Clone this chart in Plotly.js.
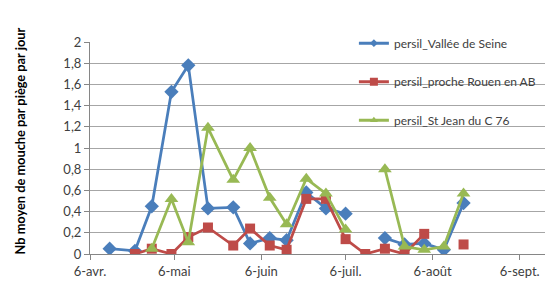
<!DOCTYPE html>
<html>
<head>
<meta charset="utf-8">
<script src="https://cdn.plot.ly/plotly-3.0.1.min.js"></script>
<style>html,body{margin:0;padding:0;background:#fff;}#chart{width:555px;height:285px;}</style>
</head>
<body>
<div id="chart"></div>
<script>
var dates = ["2013-04-13","2013-04-22","2013-04-28","2013-05-05","2013-05-11","2013-05-18","2013-05-27","2013-06-02","2013-06-09","2013-06-15","2013-06-22","2013-06-29","2013-07-06","2013-07-13","2013-07-20","2013-07-27","2013-08-03","2013-08-10","2013-08-17"];
var valleeSeine = [0.05,0.03,0.45,1.53,1.78,0.43,0.44,0.10,0.15,0.13,0.58,0.43,0.38,null,0.15,0.09,0.10,0.04,0.48];
var procheRouen = [null,0.00,0.05,0.00,0.16,0.25,0.08,0.24,0.08,0.04,0.52,0.52,0.14,0.00,0.05,0.00,0.19,null,0.09];
var stJean = [null,null,0.05,0.52,0.11,1.19,0.70,1.00,0.53,0.28,0.71,0.57,0.23,null,0.80,0.07,0.04,0.07,0.57];
var seriesNames = ["persil_Vallée de Seine","persil_proche Rouen en AB","persil_St Jean du C 76"];
var yAxisTitle = "Nb moyen de mouche par piège par jour";
var xTickVals = ["2013-04-06","2013-05-06","2013-06-06","2013-07-06","2013-08-06","2013-09-06"];
var xTickText = ["6-avr.","6-mai","6-juin","6-juil.","6-août","6-sept."];
var yTickVals = [0,0.2,0.4,0.6,0.8,1,1.2,1.4,1.6,1.8,2];
var yTickText = ["0","0,2","0,4","0,6","0,8","1","1,2","1,4","1,6","1,8","2"];

var FONT = "Lato, 'Liberation Sans', sans-serif";
var colors = ["#4a7ebb","#be4b48","#98b954"];
var symbols = ["diamond","square","triangle-up"];
var sizes = [11,10,12];
var legendSizes = [6,8,7];
var seriesData = [valleeSeine, procheRouen, stJean];
var groups = ["a","b","c"];

var traces = [];
for (var i = 0; i < 3; i++) {
  traces.push({x:dates, y:seriesData[i], name:seriesNames[i], legendgroup:groups[i], showlegend:false,
    mode:"lines+markers", line:{color:colors[i], width:2.75},
    marker:{symbol:symbols[i], size:sizes[i], color:colors[i]}});
}
for (var j = 0; j < 3; j++) {
  traces.push({x:[dates[0]], y:[null], name:seriesNames[j], legendgroup:groups[j], showlegend:true,
    mode:"lines+markers", line:{color:colors[j], width:3},
    marker:{symbol:symbols[j], size:legendSizes[j], color:colors[j]}});
}
var layout = {
  width:555, height:285,
  margin:{l:90, r:10, t:42, b:31, pad:0},
  paper_bgcolor:"#fff", plot_bgcolor:"#fff",
  font:{family:FONT, size:13, color:"#404040"},
  showlegend:true,
  legend:{x:0.58, y:1.063, xanchor:"left", yanchor:"top", bgcolor:"rgba(0,0,0,0)", borderwidth:0,
    font:{family:FONT, size:12, color:"#404040"}, traceorder:"grouped", tracegroupgap:19.5},
  shapes:[{type:"rect", xref:"paper", yref:"paper", x0:0.552, x1:1.0, y0:0.54, y1:1.01,
    layer:"between", fillcolor:"#fff", line:{width:0}}],
  annotations:[{text:"<b>" + yAxisTitle + "</b>", xref:"paper", yref:"paper", x:-0.154, y:0.535,
    xanchor:"center", yanchor:"middle", textangle:-90, showarrow:false,
    font:{family:FONT, size:12.8, color:"#000"}}],
  xaxis:{type:"date", range:["2013-04-06","2013-09-15"], tickmode:"array", tickvals:xTickVals, ticktext:xTickText,
    showgrid:false, zeroline:false, showline:true, linecolor:"#868686", linewidth:1,
    ticks:"outside", ticklen:5, tickcolor:"#868686", tickfont:{family:FONT, size:13, color:"#404040"}},
  yaxis:{range:[0,2], tickmode:"array", tickvals:yTickVals, ticktext:yTickText,
    showgrid:true, gridcolor:"#a6a6a6", gridwidth:1, zeroline:false, showline:true, linecolor:"#868686",
    ticks:"outside", ticklen:5, tickcolor:"#868686", tickfont:{family:FONT, size:13, color:"#404040"}}
};
Plotly.newPlot("chart", traces, layout, {displayModeBar:false, staticPlot:true});
</script>
</body>
</html>
